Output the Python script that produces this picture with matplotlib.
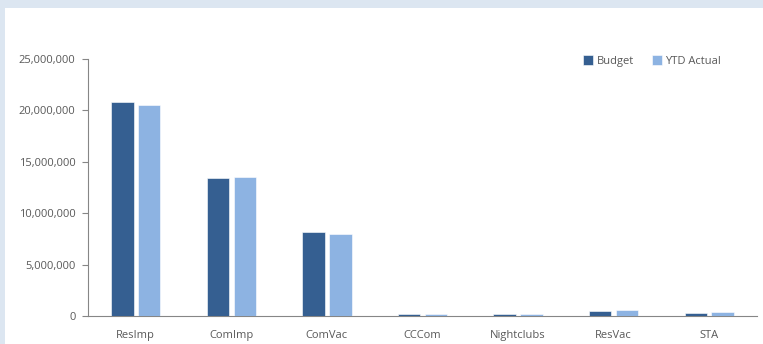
import matplotlib
matplotlib.use("Agg")
import matplotlib.pyplot as plt
from matplotlib.patches import Rectangle
from matplotlib.ticker import FuncFormatter
import numpy as np

categories = ["ResImp", "ComImp", "ComVac", "CCCom", "Nightclubs", "ResVac", "STA"]
budget = [20800000, 13400000, 8180000, 180000, 210000, 500000, 340000]
ytd_actual = [20550000, 13550000, 8020000, 170000, 200000, 560000, 370000]
y_ticks = [0, 5000000, 10000000, 15000000, 20000000, 25000000]

plt.rcParams['font.family'] = ['Open Sans', 'DejaVu Sans']
text_color = "#595959"

fig = plt.figure(figsize=(7.63, 3.44), dpi=100)
fig.patch.set_facecolor("#dce6f1")
fig.patches.append(Rectangle((5/763, 0), 1, (344-8)/344, transform=fig.transFigure,
                             facecolor="white", edgecolor="none", zorder=-10))

ax = fig.add_axes([88/763, 28/344, 669/763, 257/344])
ax.set_facecolor("none")
x = np.arange(len(categories))
w = 0.235
off = 0.141
ax.bar(x - off, budget, w, color="#355f91", edgecolor="white", linewidth=0.4, label="Budget", zorder=3)
ax.bar(x + off, ytd_actual, w, color="#8db3e2", edgecolor="white", linewidth=0.4, label="YTD Actual", zorder=3)

ax.set_xlim(-0.5, len(categories) - 0.5)
ax.set_ylim(0, 25000000)
ax.set_yticks(y_ticks)
ax.yaxis.set_major_formatter(FuncFormatter(lambda v, p: f"{int(v):,}"))
ax.set_xticks(x)
ax.set_xticklabels(categories)
ax.tick_params(axis="y", colors="#868686", labelcolor=text_color, labelsize=8, length=4, width=0.8, pad=5)
ax.tick_params(axis="x", length=0, labelcolor=text_color, labelsize=8, pad=10)
for s in ["top", "right"]:
    ax.spines[s].set_visible(False)
ax.spines["left"].set_color("#868686")
ax.spines["bottom"].set_color("#868686")

leg = fig.legend(loc="center", bbox_to_anchor=(652/763, (344-61)/344), ncol=2, frameon=False,
                 fontsize=8, handlelength=0.9, handleheight=0.9, handletextpad=0.3, columnspacing=1.6,
                 labelcolor=text_color)

fig.savefig("out.png", dpi=100, facecolor=fig.get_facecolor())
